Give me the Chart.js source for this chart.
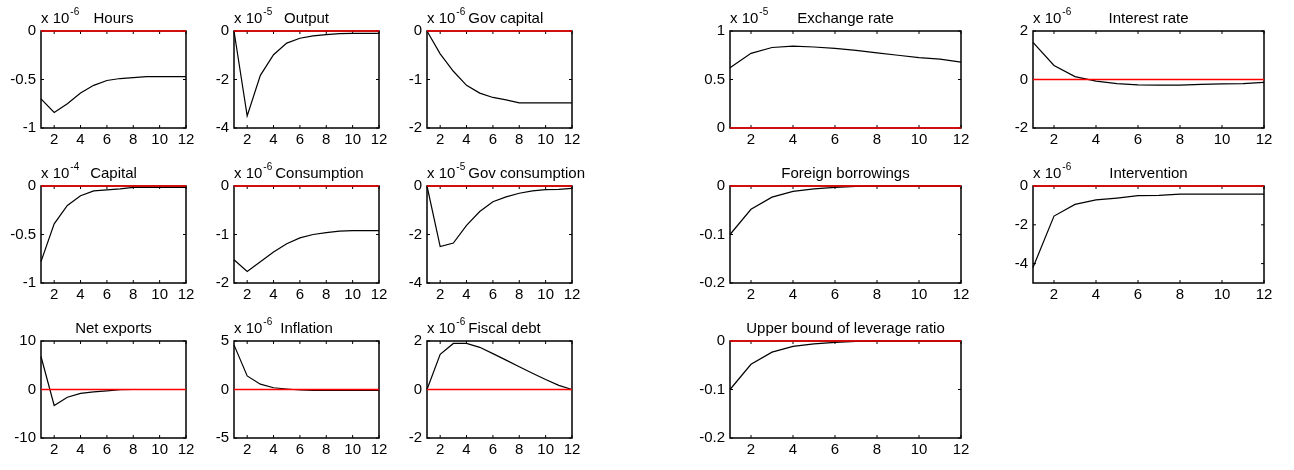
<!DOCTYPE html>
<html>
<head>
<meta charset="utf-8">
<script src="https://cdn.jsdelivr.net/npm/chart.js@4.4.0/dist/chart.umd.min.js"></script>
<style>
html, body { margin: 0; padding: 0; background: #fff; }
body { width: 1294px; height: 470px; position: relative; overflow: hidden; }
.panel { position: absolute; }
</style>
</head>
<body>
<script>
const steps = [1, 2, 3, 4, 5, 6, 7, 8, 9, 10, 11, 12];
const xTicks = [2, 4, 6, 8, 10, 12];

const titles = ["Hours", "Output", "Gov capital", "Capital", "Consumption", "Gov consumption",
    "Net exports", "Inflation", "Fiscal debt", "Exchange rate", "Interest rate",
    "Foreign borrowings", "Intervention", "Upper bound of leverage ratio"];
const exponents = [-6, -5, -6, -4, -6, -5, null, -6, -6, -5, -6, null, -6, null];

// responses, in the units of each axis (times 10^exponent)
const hours = [-0.70, -0.84, -0.75, -0.64, -0.56, -0.51, -0.49, -0.48, -0.47, -0.47, -0.47, -0.47];
const output = [0, -3.5, -1.83, -0.98, -0.5, -0.3, -0.2, -0.15, -0.11, -0.1, -0.1, -0.1];
const govCapital = [0, -0.47, -0.83, -1.12, -1.28, -1.37, -1.42, -1.48, -1.48, -1.48, -1.48, -1.48];
const capital = [-0.78, -0.39, -0.2, -0.1, -0.05, -0.04, -0.03, -0.015, -0.015, -0.015, -0.015, -0.015];
const consumption = [-1.52, -1.76, -1.56, -1.36, -1.19, -1.07, -1.0, -0.96, -0.93, -0.92, -0.92, -0.92];
const govConsumption = [0, -2.5, -2.35, -1.62, -1.05, -0.65, -0.45, -0.3, -0.2, -0.15, -0.14, -0.1];
const netExports = [6.8, -3.3, -1.6, -0.8, -0.5, -0.3, -0.05, 0, 0, 0, 0, 0];
const inflation = [4.6, 1.4, 0.55, 0.18, 0.05, -0.05, -0.08, -0.08, -0.08, -0.08, -0.08, -0.08];
const fiscalDebt = [0, 1.45, 1.9, 1.9, 1.74, 1.48, 1.21, 0.94, 0.67, 0.41, 0.17, 0];
const exchangeRate = [0.62, 0.77, 0.83, 0.845, 0.835, 0.82, 0.8, 0.775, 0.75, 0.725, 0.71, 0.68];
const interestRate = [1.53, 0.58, 0.12, -0.07, -0.17, -0.22, -0.23, -0.23, -0.2, -0.18, -0.17, -0.12];
const foreignBorrowings = [-0.1, -0.048, -0.023, -0.011, -0.006, -0.003, -0.001, 0, 0, 0, 0, 0];
const intervention = [-4.2, -1.55, -0.95, -0.72, -0.62, -0.5, -0.48, -0.42, -0.42, -0.42, -0.42, -0.42];
const leverageBound = [-0.1, -0.048, -0.023, -0.011, -0.006, -0.003, -0.001, 0, 0, 0, 0, 0];

const series = [hours, output, govCapital, capital, consumption, govConsumption, netExports,
    inflation, fiscalDebt, exchangeRate, interestRate, foreignBorrowings, intervention, leverageBound];

const yMin = [-1, -4, -2, -1, -2, -4, -10, -5, -2, 0, -2, -0.2, -5, -0.2];
const yMax = [0, 0, 0, 0, 0, 0, 10, 5, 2, 1, 2, 0, 0, 0];
const yTicks = [
    [-1, -0.5, 0], [-4, -2, 0], [-2, -1, 0],
    [-1, -0.5, 0], [-2, -1, 0], [-4, -2, 0],
    [-10, 0, 10], [-5, 0, 5], [-2, 0, 2],
    [0, 0.5, 1], [-2, 0, 2],
    [-0.2, -0.1, 0], [-4, -2, 0],
    [-0.2, -0.1, 0]
];

// subplot grid: [row, col]
const cells = [[0, 0], [0, 1], [0, 2], [1, 0], [1, 1], [1, 2], [2, 0], [2, 1], [2, 2],
    [0, 3], [0, 4], [1, 3], [1, 4], [2, 3]];
const colLeft = [41, 234, 427, 730, 1033];
const colWidth = [145, 145, 145, 231, 231];
const rowTop = [31, 186, 341];
const boxH = 97;
const padTop = 31, axisW = 40, axisH = 24, padRight = 30;

const family = "'Liberation Sans', Arial, sans-serif";
Chart.defaults.font.family = family;
Chart.defaults.color = "#000";

const axesBox = {
    id: "axesBox",
    beforeDatasetsDraw(chart) {
        const {ctx, chartArea: a, scales: {x, y}} = chart;
        ctx.save();
        ctx.strokeStyle = "#000";
        ctx.lineWidth = 1;
        ctx.beginPath();
        x.ticks.forEach(t => {
            const px = x.getPixelForValue(t.value);
            ctx.moveTo(px, a.bottom); ctx.lineTo(px, a.bottom - 3);
            ctx.moveTo(px, a.top); ctx.lineTo(px, a.top + 3);
        });
        y.ticks.forEach(t => {
            const py = y.getPixelForValue(t.value);
            ctx.moveTo(a.left, py); ctx.lineTo(a.left + 3, py);
            ctx.moveTo(a.right, py); ctx.lineTo(a.right - 3, py);
        });
        ctx.stroke();
        ctx.lineWidth = 1.5;
        ctx.strokeRect(a.left, a.top, a.right - a.left, a.bottom - a.top);
        ctx.restore();
    }
};

const panelText = {
    id: "panelText",
    afterDraw(chart, args, opts) {
        const {ctx, chartArea: a} = chart;
        const base = a.top - 8;
        ctx.save();
        ctx.fillStyle = "#000";
        ctx.textBaseline = "alphabetic";
        ctx.textAlign = "left";
        let expEnd = -Infinity;
        if (opts.exponent !== null) {
            ctx.font = "15px " + family;
            ctx.fillText("x 10", a.left, base);
            const w = ctx.measureText("x 10").width;
            ctx.font = "10px " + family;
            const e = String(opts.exponent);
            ctx.fillText(e, a.left + w + 1, base - 8);
            expEnd = a.left + w + 1 + ctx.measureText(e).width;
        }
        ctx.font = "15px " + family;
        const tw = ctx.measureText(opts.title).width;
        const tx = Math.max((a.left + a.right) / 2 - tw / 2, expEnd + 3);
        ctx.fillText(opts.title, tx, base);
        ctx.restore();
    }
};

titles.forEach((title, i) => {
    const [r, c] = cells[i];
    const div = document.createElement("div");
    div.className = "panel";
    div.style.left = (colLeft[c] - axisW) + "px";
    div.style.top = (rowTop[r] - padTop) + "px";
    div.style.width = (axisW + colWidth[c] + padRight) + "px";
    div.style.height = (padTop + boxH + axisH) + "px";
    const canvas = document.createElement("canvas");
    div.appendChild(canvas);
    document.body.appendChild(div);

    new Chart(canvas, {
        type: "line",
        data: {
            datasets: [
                {
                    label: "zero",
                    data: steps.map(s => ({x: s, y: 0})),
                    borderColor: "#ff0000",
                    borderWidth: 1.6,
                    pointRadius: 0,
                    clip: false,
                    order: 0,
                },
                {
                    label: title,
                    data: steps.map((s, k) => ({x: s, y: series[i][k]})),
                    borderColor: "#000",
                    borderWidth: 1.2,
                    pointRadius: 0,
                    tension: 0,
                    clip: false,
                    order: 1,
                },
            ],
        },
        options: {
            responsive: true,
            maintainAspectRatio: false,
            animation: false,
            events: [],
            layout: {padding: {top: padTop, right: padRight, left: 0, bottom: 0}},
            plugins: {
                legend: {display: false},
                tooltip: {enabled: false},
                panelText: {title: title, exponent: exponents[i]},
            },
            scales: {
                x: {
                    type: "linear",
                    min: 1,
                    max: 12,
                    grid: {display: false, drawTicks: false},
                    border: {display: false},
                    ticks: {font: {size: 15}, padding: 3, maxRotation: 0, autoSkip: false,
                        callback: v => String(v)},
                    afterBuildTicks: s => { s.ticks = xTicks.map(v => ({value: v})); },
                    afterFit: s => { s.height = axisH; },
                },
                y: {
                    type: "linear",
                    min: yMin[i],
                    max: yMax[i],
                    grid: {display: false, drawTicks: false},
                    border: {display: false},
                    ticks: {font: {size: 15}, padding: 5, autoSkip: false,
                        callback: v => String(v)},
                    afterBuildTicks: s => { s.ticks = yTicks[i].map(v => ({value: v})); },
                    afterFit: s => { s.width = axisW; },
                },
            },
        },
        plugins: [axesBox, panelText],
    });
});
</script>
</body>
</html>
